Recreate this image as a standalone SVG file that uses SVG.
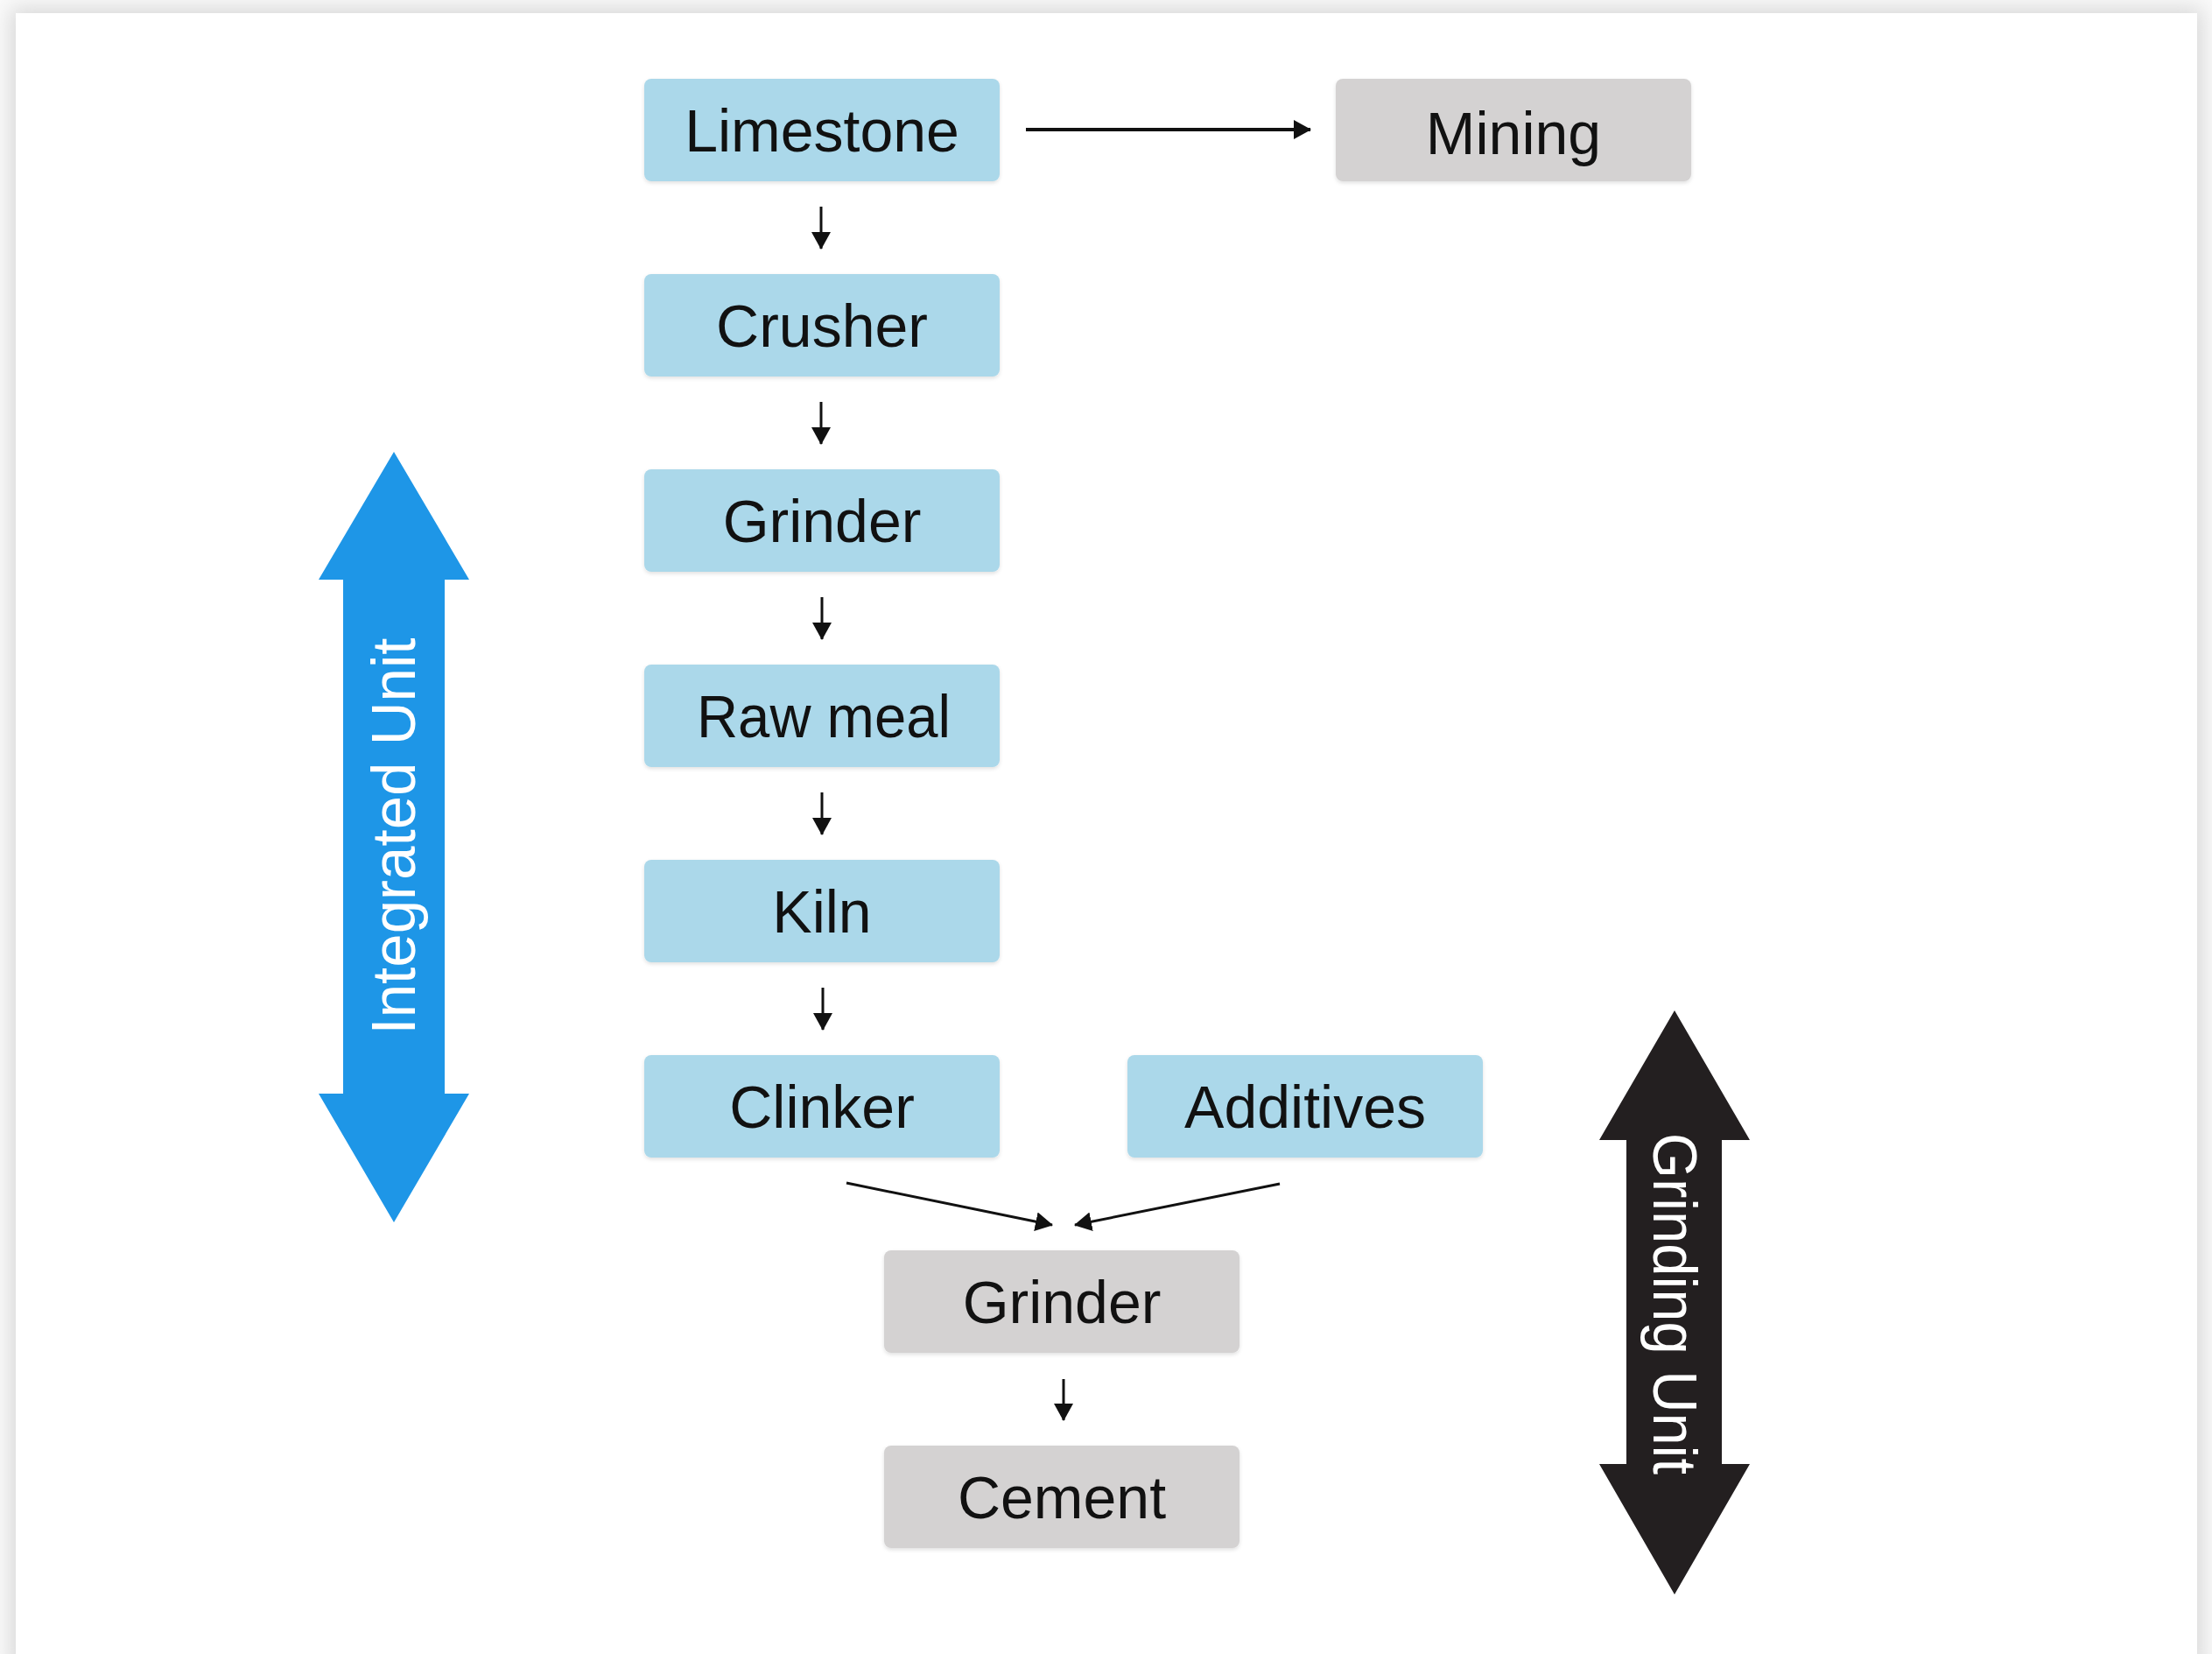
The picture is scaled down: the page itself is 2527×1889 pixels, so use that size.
<svg xmlns="http://www.w3.org/2000/svg" width="2527" height="1889" viewBox="0 0 2527 1889">
<style>
.nb{fill:#abd8ea}
.ng{fill:#d4d2d2}
.lbl{font-family:"Liberation Sans",Arial,sans-serif;font-size:68px;fill:#111;text-anchor:middle}
.con{stroke:#111;stroke-width:3;fill:none;marker-end:url(#ah)}
.big{font-family:"Liberation Sans",Arial,sans-serif;font-size:70px;fill:#fff;text-anchor:middle}
</style>
<defs>
<marker id="ah" viewBox="0 0 20 22" refX="19" refY="11" markerWidth="20" markerHeight="22" markerUnits="userSpaceOnUse" orient="auto">
<path d="M0,0 L20,11 L0,22 Z" fill="#111"/>
</marker>
<filter id="cardsh" x="-5%" y="-5%" width="110%" height="110%">
<feGaussianBlur stdDeviation="12"/>
</filter>
<filter id="boxsh" x="-5%" y="-10%" width="110%" height="120%">
<feDropShadow dx="0" dy="2" stdDeviation="2" flood-color="#000" flood-opacity="0.12"/>
</filter>
</defs>
<rect width="2527" height="1889" fill="#fafafa"/>
<rect x="12" y="9" width="2504" height="1900" fill="#d8d8d8" filter="url(#cardsh)"/>
<rect x="18" y="15" width="2492" height="1880" fill="#ffffff"/>

<g id="connectors">
<line class="con" style="stroke-width:4" x1="1172" y1="148" x2="1497" y2="148"/>
<line class="con" x1="938" y1="236" x2="938" y2="284"/>
<line class="con" x1="938" y1="459" x2="938" y2="507"/>
<line class="con" x1="939" y1="682" x2="939" y2="730"/>
<line class="con" x1="939" y1="905" x2="939" y2="953"/>
<line class="con" x1="940" y1="1128" x2="940" y2="1176"/>
<line class="con" x1="967" y1="1351" x2="1202" y2="1399"/>
<line class="con" x1="1462" y1="1352" x2="1228" y2="1399"/>
<line class="con" x1="1215" y1="1575" x2="1215" y2="1622"/>
</g>

<g id="integrated-unit">
<path d="M450,516 L536,662 L508,662 L508,1249 L536,1249 L450,1396 L364,1249 L392,1249 L392,662 L364,662 Z" fill="#1e96e7"/>
<text class="big" transform="translate(474,955) rotate(-90)" textLength="453" lengthAdjust="spacingAndGlyphs">Integrated Unit</text>
</g>

<g id="grinding-unit">
<path d="M1913,1154 L1999,1302 L1967,1302 L1967,1672 L1999,1672 L1913,1821 L1827,1672 L1858,1672 L1858,1302 L1827,1302 Z" fill="#231f20"/>
<text class="big" transform="translate(1889,1489) rotate(90)" textLength="390" lengthAdjust="spacingAndGlyphs">Grinding Unit</text>
</g>

<g id="limestone"><rect class="nb" x="736" y="90" width="406" height="117" rx="8" filter="url(#boxsh)"/><text class="lbl" x="939" y="173">Limestone</text></g>
<g id="mining"><rect class="ng" x="1526" y="90" width="406" height="117" rx="8" filter="url(#boxsh)"/><text class="lbl" x="1729" y="176">Mining</text></g>
<g id="crusher"><rect class="nb" x="736" y="313" width="406" height="117" rx="8" filter="url(#boxsh)"/><text class="lbl" x="939" y="396">Crusher</text></g>
<g id="grinder1"><rect class="nb" x="736" y="536" width="406" height="117" rx="8" filter="url(#boxsh)"/><text class="lbl" x="939" y="619">Grinder</text></g>
<g id="raw-meal"><rect class="nb" x="736" y="759" width="406" height="117" rx="8" filter="url(#boxsh)"/><text class="lbl" x="941" y="842" textLength="290" lengthAdjust="spacingAndGlyphs">Raw meal</text></g>
<g id="kiln"><rect class="nb" x="736" y="982" width="406" height="117" rx="8" filter="url(#boxsh)"/><text class="lbl" x="939" y="1065">Kiln</text></g>
<g id="clinker"><rect class="nb" x="736" y="1205" width="406" height="117" rx="8" filter="url(#boxsh)"/><text class="lbl" x="939" y="1288">Clinker</text></g>
<g id="additives"><rect class="nb" x="1288" y="1205" width="406" height="117" rx="8" filter="url(#boxsh)"/><text class="lbl" x="1491" y="1288">Additives</text></g>
<g id="grinder2"><rect class="ng" x="1010" y="1428" width="406" height="117" rx="8" filter="url(#boxsh)"/><text class="lbl" x="1213" y="1511">Grinder</text></g>
<g id="cement"><rect class="ng" x="1010" y="1651" width="406" height="117" rx="8" filter="url(#boxsh)"/><text class="lbl" x="1213" y="1734">Cement</text></g>
</svg>
